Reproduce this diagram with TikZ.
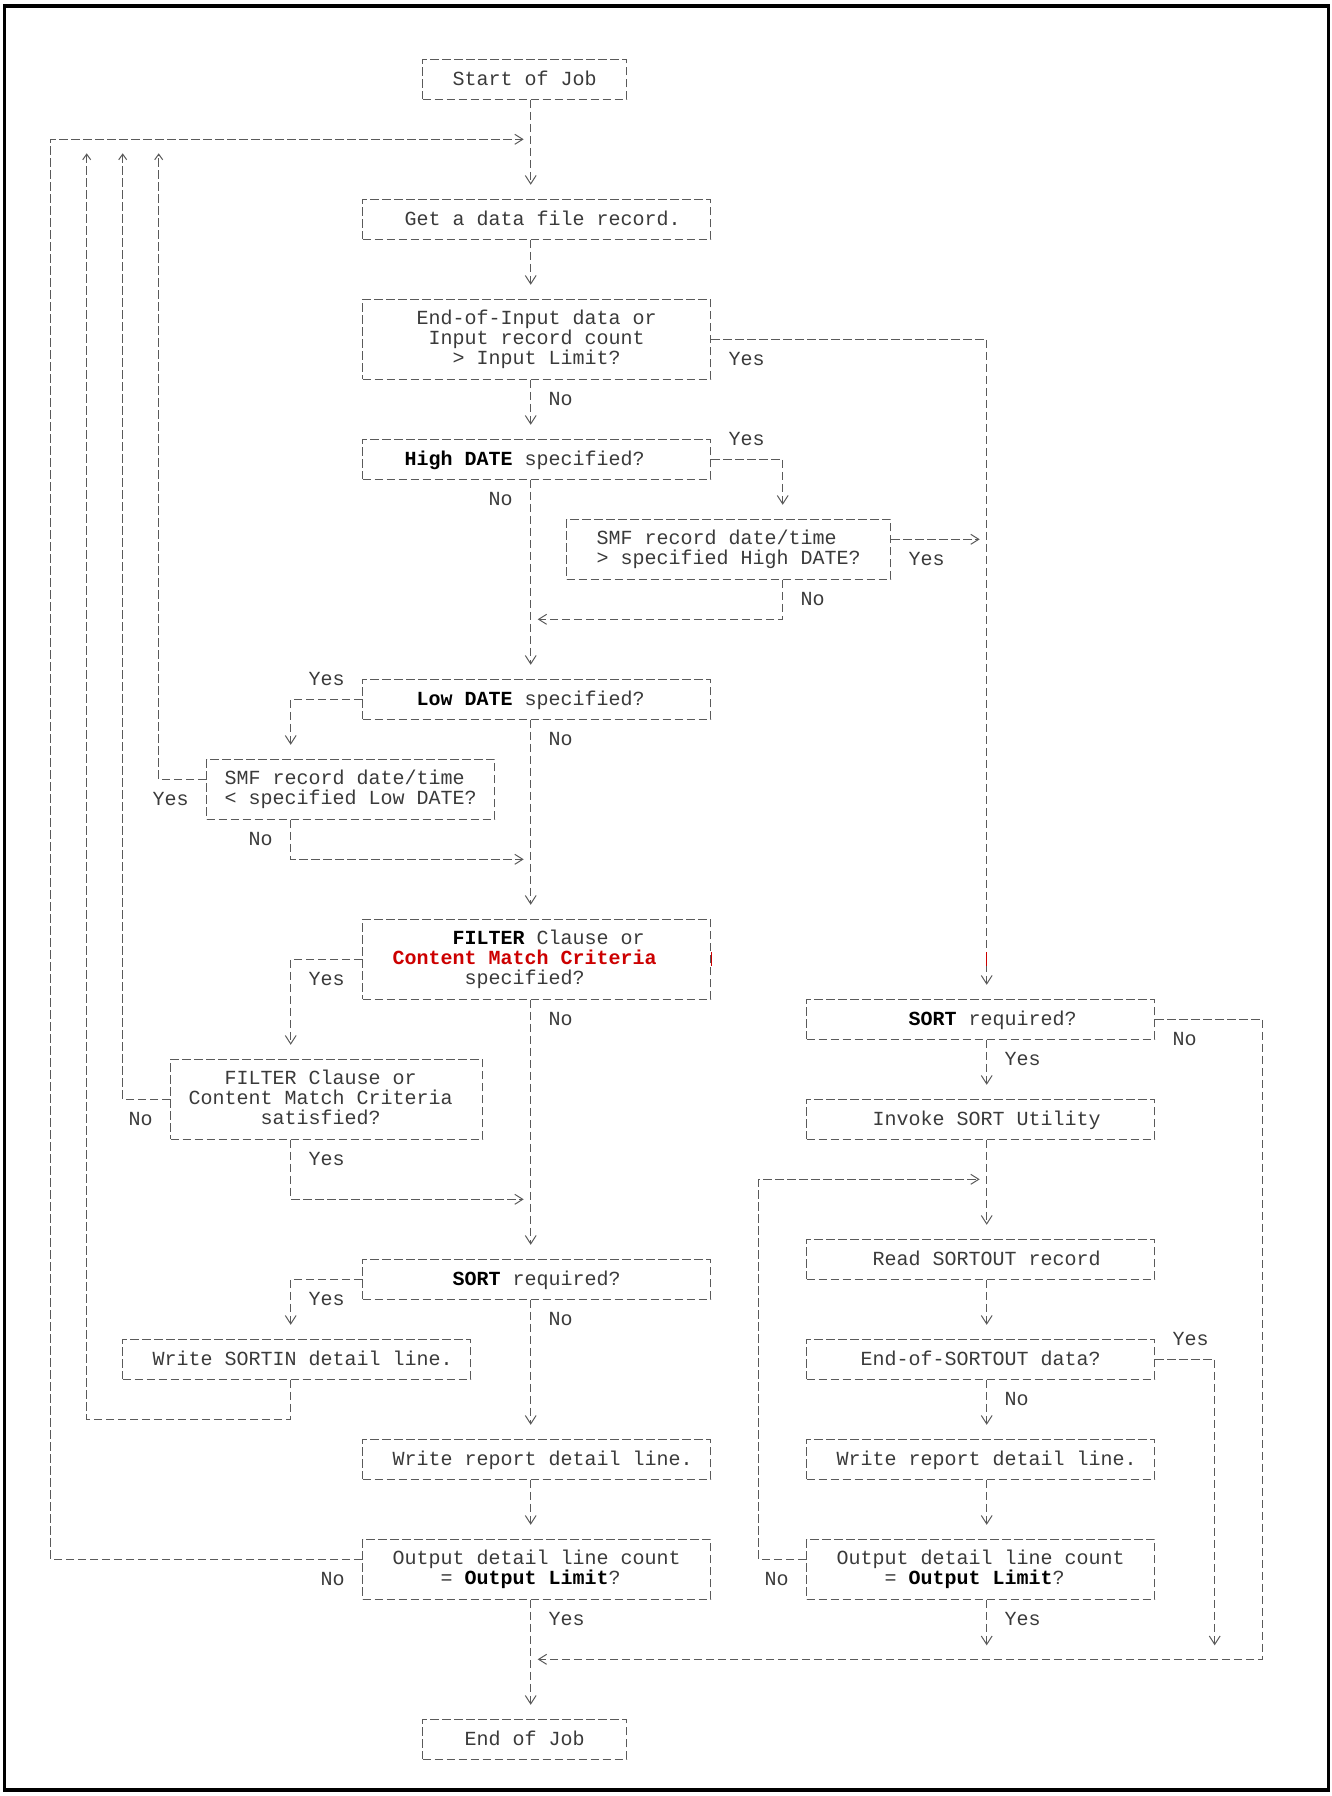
\documentclass[tikz,border=0pt]{standalone}
\usepackage{fontspec}
\setmonofont{Liberation Mono}
\usetikzlibrary{arrows.meta, calc}
\definecolor{jobink}{HTML}{3A3A3A}
\definecolor{jobline}{HTML}{5A5A5A}
\definecolor{jobred}{HTML}{CC0000}
\newcommand{\rowstrut}{\rule[-2.2pt]{0pt}{10.9pt}}
\newcommand{\kw}[1]{\textbf{\color{black}#1}}
\newcommand{\pad}{\hphantom{x}}
\tikzset{
  wire/.style={draw=jobline, line width=0.5pt, dash pattern=on 4.2pt off 1.8pt},
  box/.style={wire, rectangle, inner sep=0pt, align=center, text=jobink,
              font=\ttfamily\fontsize{10pt}{10pt}\selectfont,
              execute at begin node=\rowstrut, execute at end node=\rowstrut},
  cols/.style={minimum width=#1*6pt},
  rows/.style={minimum height=#1*10pt},
  flow/.style={wire, -{Straight Barb[length=4.2pt, width=5.4pt]}, shorten >=7pt},
  flowup/.style={wire, -{Straight Barb[length=2.8pt, width=4pt]}, shorten >=7pt},
  flowin/.style={wire, -{Straight Barb[length=4pt, width=5pt]}, shorten >=3.5pt},
  lbl/.style={font=\ttfamily\fontsize{10pt}{10pt}\selectfont, text=jobink, inner sep=0pt,
              execute at begin node=\rowstrut},
}

\begin{document}
\begin{tikzpicture}[x=6pt, y=-10pt]
  \useasboundingbox (-4.225,-2.965) rectangle (106.775,86.835);
  \draw[line width=1.6pt] (-3.833,-2.665) rectangle (106.467,86.535);

  % main column
  \node[box, cols=17, rows=2] (start) at (39.5,1) {Start of Job};
  \node[box, cols=29, rows=2] (getrec) at (40.5,8) {\pad Get a data file record.};
  \node[box, cols=29, rows=4] (eoi) at (40.5,14) {End-of-Input data or\\Input record count\\> Input Limit?};
  \node[box, cols=29, rows=2] (hidate) at (40.5,20) {\kw{High DATE} specified?\pad\pad};
  \node[box, cols=27, rows=3, align=left] (hicmp) at (56.5,24.5) {SMF record date/time\\> specified High DATE?};
  \node[box, cols=29, rows=2] (lodate) at (40.5,32) {\kw{Low DATE} specified?\pad};
  \node[box, cols=24, rows=3, align=left] (locmp) at (25,36.5) {SMF record date/time\\< specified Low DATE?};
  \node[box, cols=29, rows=4] (filt) at (40.5,45)
    {\pad\pad\kw{FILTER} Clause or\\\textcolor{jobred}{\textbf{Content Match Criteria}}\pad\pad\\specified?\pad\pad};
  \node[box, cols=26, rows=4] (filtok) at (23,52) {FILTER Clause or\pad\\Content Match Criteria\pad\\satisfied?\pad};
  \node[box, cols=29, rows=2] (sortq) at (40.5,61) {\kw{SORT} required?};
  \node[box, cols=29, rows=2] (sortin) at (20.5,65) {\pad Write SORTIN detail line.};
  \node[box, cols=29, rows=2] (rptl) at (40.5,70) {\pad Write report detail line.};
  \node[box, cols=29, rows=3] (limitl) at (40.5,75.5) {Output detail line count\\= \kw{Output Limit}?\pad};
  \node[box, cols=17, rows=2] (endjob) at (39.5,84) {End of Job};

  % sort column
  \node[box, cols=29, rows=2] (sortr) at (77.5,48) {\pad\pad\kw{SORT} required?};
  \node[box, cols=29, rows=2] (invoke) at (77.5,53) {\pad Invoke SORT Utility};
  \node[box, cols=29, rows=2] (readso) at (77.5,60) {\pad Read SORTOUT record};
  \node[box, cols=29, rows=2] (eos) at (77.5,65) {End-of-SORTOUT data?};
  \node[box, cols=29, rows=2] (rptr) at (77.5,70) {\pad Write report detail line.};
  \node[box, cols=29, rows=3] (limitr) at (77.5,75.5) {Output detail line count\\= \kw{Output Limit}?\pad};

  % junctions and corners
  \coordinate (top) at (40,4);
  \coordinate (hi) at (78,24);
  \coordinate (c61) at (61,28);
  \coordinate (m28) at (40,28);
  \coordinate (j40) at (20,40);
  \coordinate (m40) at (40,40);
  \coordinate (j57) at (20,57);
  \coordinate (m57) at (40,57);
  \coordinate (j68) at (20,68);
  \coordinate (r56) at (78,56);
  \coordinate (bot) at (40,80);
  \coordinate (k0) at (0,75);
  \coordinate (k3) at (3,68);
  \coordinate (k6) at (6,52);
  \coordinate (k9) at (9,36);
  \coordinate (k59) at (59,75);
  \coordinate (k97) at (97,80);
  \coordinate (k101) at (101,80);

  % main flow
  \draw[flow] (start.south -| top) -- (getrec.north -| top);
  \draw[flow] (getrec.south -| top) -- (eoi.north -| top);
  \draw[flow] (eoi.south -| top) -- (hidate.north -| top);
  \draw[flow] (eoi.east) -| (sortr.north -| hi);
  \draw[flow] (hidate.east) -| (hicmp.north -| c61);
  \draw[flowin] (hicmp.east |- hi) -- (hi);
  \draw[flowin] (hicmp.south -| c61) -- (c61) -- (m28);
  \draw[flow] (hidate.south -| top) -- (lodate.north -| top);
  \draw[flow] (lodate.west) -| (locmp.north -| j40);
  \draw[flowin] (locmp.south -| j40) -- (j40) -- (m40);
  \draw[flow] (lodate.south -| top) -- (filt.north -| top);
  \draw[flow] (filt.west) -| (filtok.north -| j57);
  \draw[flowin] (filtok.south -| j57) -- (j57) -- (m57);
  \draw[flow] (filt.south -| top) -- (sortq.north -| top);
  \draw[flow] (sortq.west) -| (sortin.north -| j68);
  \draw[flow] (sortq.south -| top) -- (rptl.north -| top);
  \draw[flow] (rptl.south -| top) -- (limitl.north -| top);
  \draw[flow] (limitl.south -| top) -- (endjob.north -| top);

  % loops back to the top
  \draw[flowin] (limitl.west |- k0) -- (k0) -- (k0 |- top) -- (top);
  \draw[flowup] (sortin.south -| j68) -- (j68) -- (k3) -- (k3 |- top);
  \draw[flowup] (filtok.west) -- (k6) -- (k6 |- top);
  \draw[flowup] (locmp.west |- k9) -- (k9) -- (k9 |- top);

  % sort flow
  \draw[flow] (sortr.south -| hi) -- (invoke.north -| hi);
  \draw[flow] (invoke.south -| hi) -- (readso.north -| hi);
  \draw[flow] (readso.south -| hi) -- (eos.north -| hi);
  \draw[flow] (eos.south -| hi) -- (rptr.north -| hi);
  \draw[flow] (rptr.south -| hi) -- (limitr.north -| hi);
  \draw[flow] (limitr.south -| hi) -- (bot -| hi);
  \draw[flow] (eos.east) -| (k97);
  \draw[flowin] (limitr.west |- k59) -- (k59) |- (r56);
  \draw[flowin] (sortr.east) -| (k101) -- (bot);

  \draw[jobred, line width=0.5pt] ($(filt.east)+(0,-0.35)$) -- ($(filt.east)+(0,0.35)$);
  \draw[jobred, line width=0.5pt] ($(hi |- filt.east)+(0,-0.35)$) -- ($(hi |- filt.east)+(0,0.35)$);

  % answers
  \node[lbl] (l1) at (58,15) {Yes};
  \node[lbl] (l2) at (42.5,17) {No};
  \node[lbl] (l3) at (58,19) {Yes};
  \node[lbl] (l4) at (37.5,22) {No};
  \node[lbl] (l5) at (73,25) {Yes};
  \node[lbl] (l6) at (63.5,27) {No};
  \node[lbl] (l7) at (23,31) {Yes};
  \node[lbl] (l8) at (42.5,34) {No};
  \node[lbl] (l9) at (10,37) {Yes};
  \node[lbl] (l10) at (17.5,39) {No};
  \node[lbl] (l11) at (23,46) {Yes};
  \node[lbl] (l12) at (42.5,48) {No};
  \node[lbl] (l13) at (94.5,49) {No};
  \node[lbl] (l14) at (81,50) {Yes};
  \node[lbl] (l15) at (7.5,53) {No};
  \node[lbl] (l16) at (23,55) {Yes};
  \node[lbl] (l17) at (23,62) {Yes};
  \node[lbl] (l18) at (42.5,63) {No};
  \node[lbl] (l19) at (95,64) {Yes};
  \node[lbl] (l20) at (80.5,67) {No};
  \node[lbl] (l21) at (23.5,76) {No};
  \node[lbl] (l22) at (60.5,76) {No};
  \node[lbl] (l23) at (43,78) {Yes};
  \node[lbl] (l24) at (81,78) {Yes};
\end{tikzpicture}
\end{document}
